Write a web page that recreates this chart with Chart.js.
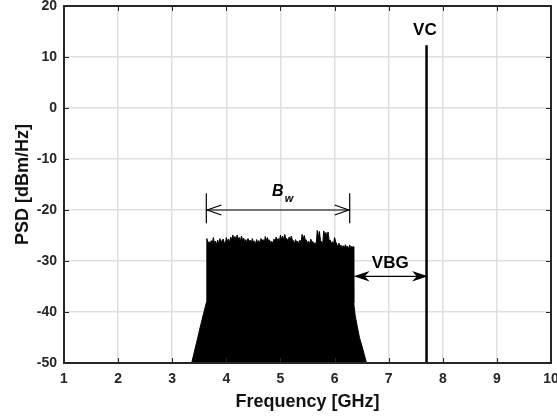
<!DOCTYPE html>
<html>
<head>
<meta charset="utf-8">
<script src="https://cdn.jsdelivr.net/npm/chart.js@4.4.1/dist/chart.umd.min.js"></script>
<style>
  html, body { margin: 0; padding: 0; background: #fff; }
  canvas { display: block; }
</style>
</head>
<body>
<canvas id="psd" width="557" height="417"></canvas>
<script>
// axis ticks
const freqTicks = [1, 2, 3, 4, 5, 6, 7, 8, 9, 10];
const levelTicks = [-50, -40, -30, -20, -10, 0, 10, 20];

// spectrum trace [GHz] / [dBm/Hz]: lower skirt, in-band noise floor, upper skirt
const psdFreq = [
  3.36, 3.40, 3.45, 3.49, 3.53, 3.58, 3.62, 3.635,
  3.64, 3.66, 3.68, 3.70, 3.72, 3.74, 3.76, 3.78, 3.80, 3.82,
  3.84, 3.86, 3.88, 3.90, 3.92, 3.94, 3.96, 3.98, 4.00, 4.02,
  4.04, 4.06, 4.08, 4.10, 4.12, 4.14, 4.16, 4.18, 4.20, 4.22,
  4.24, 4.26, 4.28, 4.30, 4.32, 4.34, 4.36, 4.38, 4.40, 4.42,
  4.44, 4.46, 4.48, 4.50, 4.52, 4.54, 4.56, 4.58, 4.60, 4.62,
  4.64, 4.66, 4.68, 4.70, 4.72, 4.74, 4.76, 4.78, 4.80, 4.82,
  4.84, 4.86, 4.88, 4.90, 4.92, 4.94, 4.96, 4.98, 5.00, 5.02,
  5.04, 5.06, 5.08, 5.10, 5.12, 5.14, 5.16, 5.18, 5.20, 5.22,
  5.24, 5.26, 5.28, 5.30, 5.32, 5.34, 5.36, 5.38, 5.40, 5.42,
  5.44, 5.46, 5.48, 5.50, 5.52, 5.54, 5.56, 5.58, 5.60, 5.62,
  5.64, 5.66, 5.68, 5.70, 5.72, 5.74, 5.76, 5.78, 5.80, 5.82,
  5.84, 5.86, 5.88, 5.90, 5.92, 5.94, 5.96, 5.98, 6.00, 6.02,
  6.04, 6.06, 6.08, 6.10, 6.12, 6.14, 6.16, 6.18, 6.20, 6.22,
  6.24, 6.26, 6.28, 6.30, 6.32, 6.34, 6.35,
  6.355, 6.38, 6.42, 6.46, 6.51, 6.55, 6.59
];
const psdLevel = [
  -50, -48.2, -46.0, -44.2, -42.4, -40.3, -38.6, -38.0,
  -25.6, -26.8, -26.2, -26.9, -26.0, -26.6, -25.4, -26.5, -26.1, -26.9,
  -25.9, -26.7, -25.6, -26.4, -26.0, -25.7, -26.3, -26.8, -25.4, -26.2,
  -25.7, -26.4, -25.3, -25.9, -24.9, -25.8, -25.2, -26.0, -24.9, -25.7,
  -25.4, -26.1, -25.1, -26.0, -25.5, -26.3, -25.8, -26.5, -25.6, -26.2,
  -25.9, -26.6, -25.6, -26.3, -26.1, -26.7, -25.8, -26.4, -26.0, -26.6,
  -25.6, -26.2, -25.8, -26.5, -25.2, -26.0, -25.4, -26.1, -25.9, -26.6,
  -26.1, -26.7, -25.7, -26.3, -25.3, -26.0, -25.6, -26.2, -24.9, -25.8,
  -25.1, -25.9, -24.8, -25.7, -25.6, -26.3, -25.3, -26.0, -25.1, -25.9,
  -26.0, -26.6, -25.8, -26.4, -26.1, -26.8, -25.9, -26.5, -24.8, -25.7,
  -25.0, -25.9, -25.9, -26.6, -26.1, -26.8, -25.7, -26.3, -26.2, -26.9,
  -26.4, -26.9, -24.0, -25.2, -24.2, -26.0, -26.2, -26.8, -24.1, -25.0,
  -24.4, -25.3, -24.3, -26.0, -25.9, -26.6, -26.2, -26.9, -25.4, -26.2,
  -26.7, -27.2, -26.5, -27.1, -26.9, -27.4, -27.0, -27.5, -26.8, -27.3,
  -27.1, -27.6, -26.9, -27.4, -27.1, -27.5, -27.2,
  -38.3, -40.6, -42.9, -45.0, -46.8, -48.4, -50
];

// virtual carrier
const vcFreq = [7.7, 7.7];
const vcLevel = [-50, 12.3];

// annotation positions (data units)
const bwSpan = [3.63, 6.28];
const bwLevel = -20;
const bwBar = [-16.7, -22.6];
const bwLabelPos = [4.95, -17.3];
const vbgSpan = [6.39, 7.69];
const vbgLevel = -33;
const vbgLabelPos = [7.03, -31.4];
const vcLabelPos = [7.67, 14.3];

const FONT = '"Liberation Sans", Arial, Helvetica, sans-serif';
const INK = '#262626';

const toPoints = (xs, ys) => xs.map((v, i) => ({ x: v, y: ys[i] }));

function arrowHead(ctx, tipX, tipY, dir, len, half, filled) {
  ctx.beginPath();
  ctx.moveTo(tipX - dir * len, tipY - half);
  ctx.lineTo(tipX, tipY);
  ctx.lineTo(tipX - dir * len, tipY + half);
  if (filled) {
    ctx.lineTo(tipX - dir * len * 0.7, tipY);
    ctx.closePath();
    ctx.fill();
  }
  ctx.stroke();
}

// axes box with inward ticks
const boxPlugin = {
  id: 'boxPlugin',
  afterDatasetsDraw(chart) {
    const { ctx, chartArea: a, scales: { x, y } } = chart;
    ctx.save();
    ctx.strokeStyle = INK;
    ctx.lineWidth = 1;
    ctx.beginPath();
    freqTicks.forEach(v => {
      const px = Math.round(x.getPixelForValue(v)) + 0.5;
      ctx.moveTo(px, a.bottom); ctx.lineTo(px, a.bottom - 5);
      ctx.moveTo(px, a.top); ctx.lineTo(px, a.top + 5);
    });
    levelTicks.forEach(v => {
      const py = Math.round(y.getPixelForValue(v)) + 0.5;
      ctx.moveTo(a.left, py); ctx.lineTo(a.left + 5, py);
      ctx.moveTo(a.right, py); ctx.lineTo(a.right - 5, py);
    });
    ctx.stroke();
    ctx.lineWidth = 2;
    ctx.strokeRect(a.left, a.top, a.right - a.left, a.bottom - a.top);
    ctx.restore();
  }
};

// bandwidth / guard band arrows and labels
const notePlugin = {
  id: 'notePlugin',
  afterDatasetsDraw(chart) {
    const { ctx, scales: { x, y } } = chart;
    ctx.save();
    ctx.strokeStyle = '#000';
    ctx.fillStyle = '#000';
    ctx.lineWidth = 1.2;

    // B_w
    const bx1 = x.getPixelForValue(bwSpan[0]);
    const bx2 = x.getPixelForValue(bwSpan[1]);
    const by = y.getPixelForValue(bwLevel);
    ctx.beginPath();
    ctx.moveTo(bx1, by); ctx.lineTo(bx2, by);
    [bx1, bx2].forEach(px => {
      ctx.moveTo(px, y.getPixelForValue(bwBar[0]));
      ctx.lineTo(px, y.getPixelForValue(bwBar[1]));
    });
    ctx.stroke();
    arrowHead(ctx, bx1 + 1, by, -1, 14, 5, false);
    arrowHead(ctx, bx2 - 1, by, 1, 14, 5, false);

    ctx.textBaseline = 'alphabetic';
    ctx.textAlign = 'center';
    ctx.font = 'italic bold 16px ' + FONT;
    const lx = x.getPixelForValue(bwLabelPos[0]);
    const ly = y.getPixelForValue(bwLabelPos[1]);
    ctx.fillText('B', lx, ly);
    ctx.textAlign = 'left';
    ctx.font = 'italic bold 11px ' + FONT;
    ctx.fillText('w', lx + 7, ly + 6);

    // VBG
    const gx1 = x.getPixelForValue(vbgSpan[0]);
    const gx2 = x.getPixelForValue(vbgSpan[1]);
    const gy = y.getPixelForValue(vbgLevel);
    ctx.beginPath();
    ctx.moveTo(gx1, gy); ctx.lineTo(gx2, gy);
    ctx.stroke();
    arrowHead(ctx, gx1, gy, -1, 12, 4, true);
    arrowHead(ctx, gx2, gy, 1, 12, 4, true);

    ctx.textAlign = 'center';
    ctx.font = 'bold 17px ' + FONT;
    ctx.fillText('VBG', x.getPixelForValue(vbgLabelPos[0]), y.getPixelForValue(vbgLabelPos[1]));
    ctx.fillText('VC', x.getPixelForValue(vcLabelPos[0]), y.getPixelForValue(vcLabelPos[1]));
    ctx.restore();
  }
};

// keep tick labels from shrinking the plot area
function noLabelPadding(axis) {
  axis.paddingTop = 0;
  axis.paddingBottom = 0;
  axis.paddingLeft = 0;
  axis.paddingRight = 0;
}

const tickFont = { family: FONT, size: 14, weight: 'bold' };
const titleFont = { family: FONT, size: 18, weight: 'bold' };
const gridStyle = { color: '#dfdfdf', lineWidth: 1.5, drawTicks: false };

new Chart(document.getElementById('psd'), {
  type: 'line',
  data: {
    datasets: [
      {
        data: toPoints(psdFreq, psdLevel),
        borderColor: '#000', backgroundColor: '#000', borderWidth: 1,
        fill: 'start', pointRadius: 0
      },
      {
        data: toPoints(vcFreq, vcLevel),
        borderColor: '#000', borderWidth: 2.5,
        fill: false, pointRadius: 0
      }
    ]
  },
  options: {
    responsive: false,
    animation: false,
    devicePixelRatio: 1,
    layout: { padding: { top: 6, right: 6, left: 0, bottom: 0 } },
    plugins: {
      legend: { display: false },
      tooltip: { enabled: false }
    },
    scales: {
      x: {
        type: 'linear',
        min: 1, max: 10,
        afterBuildTicks: axis => { axis.ticks = freqTicks.map(v => ({ value: v })); },
        afterFit: axis => { axis.height = 54; noLabelPadding(axis); },
        ticks: { font: tickFont, color: INK, padding: 8, maxRotation: 0 },
        grid: gridStyle,
        border: { display: false },
        title: { display: true, text: 'Frequency [GHz]', font: titleFont, color: '#111', padding: { top: 0, bottom: 4 } }
      },
      y: {
        min: -50, max: 20,
        afterBuildTicks: axis => { axis.ticks = levelTicks.map(v => ({ value: v })); },
        afterFit: axis => { axis.width = 64; noLabelPadding(axis); },
        ticks: { font: tickFont, color: INK, padding: 7 },
        grid: gridStyle,
        border: { display: false },
        title: { display: true, text: 'PSD [dBm/Hz]', font: titleFont, color: '#111', padding: { top: 12, bottom: 0 } }
      }
    }
  },
  plugins: [boxPlugin, notePlugin]
});
</script>
</body>
</html>
